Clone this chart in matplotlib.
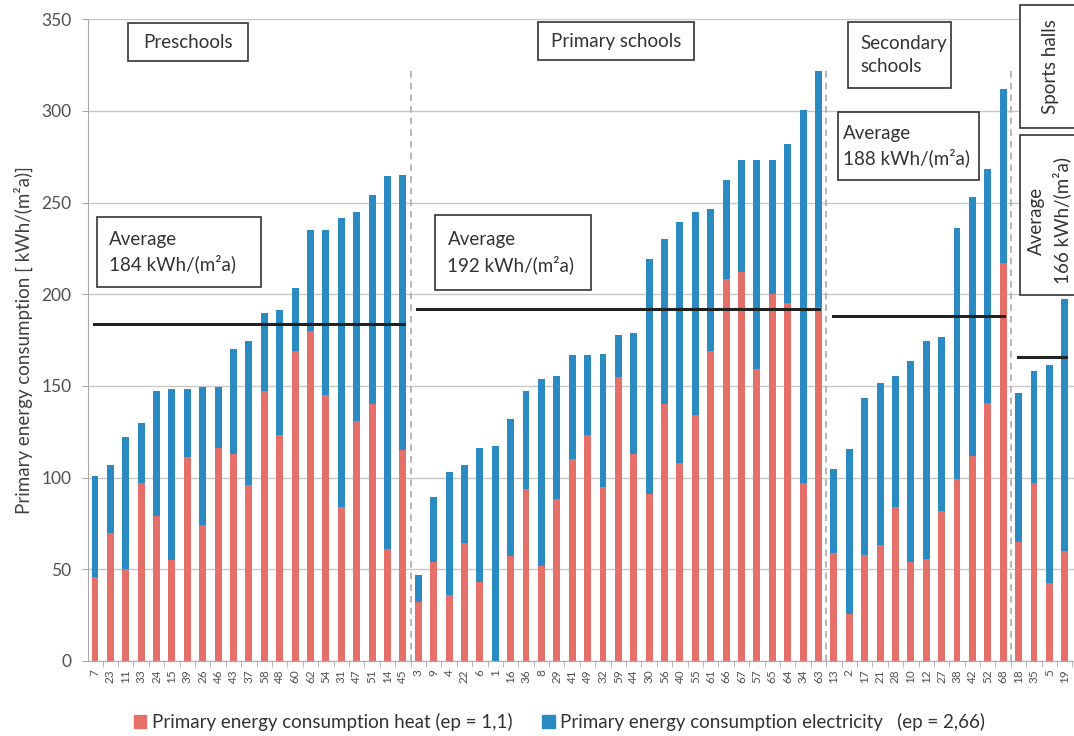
import matplotlib.pyplot as plt
from matplotlib.patches import Patch, Rectangle

plt.rcParams['font.family'] = ['Lato', 'DejaVu Sans']

# building ids per group (x tick labels)
preschools = ['7', '23', '11', '33', '24', '15', '39', '26', '46', '43', '37',
              '58', '48', '60', '62', '54', '31', '47', '51', '14', '45']
primary = ['3', '9', '4', '22', '6', '1', '16', '36', '8', '29', '41', '49', '32',
           '59', '44', '30', '56', '40', '55', '61', '66', '67', '57', '65', '64',
           '34', '63']
secondary = ['13', '2', '17', '21', '28', '10', '12', '27', '38', '42', '52', '68']
sports = ['18', '35', '5', '19']

# total primary energy (bar top) and heat part (red) per building
total_pre = [101, 107, 122, 129.5, 147, 148.5, 148.5, 149.5, 149.5, 170, 174.5,
             189.5, 191.5, 203.5, 235, 235, 241.5, 245, 254, 264.5, 265]
heat_pre = [46, 70, 50, 97, 79, 55, 111, 74, 116, 113, 96,
            147, 123, 169, 180, 145, 84, 131, 140, 61, 115]
total_pri = [47, 89.5, 103, 107, 116, 117, 132, 147, 154, 155.5, 167, 167, 167.5,
             177.5, 179, 219, 230, 239.5, 245, 246.5, 262.5, 273, 273, 273, 282,
             300.5, 321.5]
heat_pri = [32, 54, 36, 64.5, 43, 0, 57, 94, 52, 88.5, 110, 123, 95,
            155, 113, 91, 140, 108, 134, 169, 208.5, 212, 159, 200, 195,
            97, 193]
total_sec = [104.5, 115.5, 143.5, 151.5, 155.5, 163.5, 174.5, 176.5, 236, 253,
             268.5, 312]
heat_sec = [59, 25.5, 58, 63, 84, 54, 55.5, 82, 99, 111.5, 140.5, 217]
total_spo = [146, 158, 161.5, 197.5]
heat_spo = [65, 97, 42.5, 60]

averages = [184, 192, 188, 166]

labels = preschools + primary + secondary + sports
total = total_pre + total_pri + total_sec + total_spo
heat = heat_pre + heat_pri + heat_sec + heat_spo
elec = [t - h for t, h in zip(total, heat)]

red = '#E5706A'
blue = '#2A8BC3'
txt = '#333333'

fig = plt.figure(figsize=(10.74, 7.36), dpi=100)
ax = fig.add_axes([0.082, 0.102, 0.918, 0.872])

x = list(range(len(labels)))
ax.bar(x, heat, width=0.45, color=red, zorder=2)
ax.bar(x, elec, bottom=heat, width=0.45, color=blue, zorder=2)

ax.set_ylim(0, 350)
ax.set_xlim(-0.45, 63.6)
ax.set_yticks(range(0, 351, 50))
ax.grid(axis='y', color='#c8c8c8', linewidth=1, zorder=0)
ax.set_axisbelow(True)
ax.set_xticks(x)
ax.set_xticklabels(labels, rotation=90, fontsize=8.5, color='#505050')
ax.tick_params(axis='x', length=0, pad=6)
ax.tick_params(axis='y', length=4, colors='#505050', labelsize=12.5,
               color='#aaaaaa', pad=8)
ax.set_xticks([i + 0.5 for i in x], minor=True)
ax.tick_params(axis='x', which='minor', length=4, color='#aaaaaa')
for s in ['top', 'right']:
    ax.spines[s].set_visible(False)
for s in ['left', 'bottom']:
    ax.spines[s].set_color('#aaaaaa')
ax.set_ylabel('Primary energy consumption [ kWh/(m²a)]', fontsize=13.5,
              color='#404040', labelpad=6)

# group separators and average lines
n1 = len(preschools)
n2 = n1 + len(primary)
n3 = n2 + len(secondary)
n4 = n3 + len(sports)
for b in [n1 - 0.5, n2 - 0.5, n3 - 0.5]:
    ax.plot([b, b], [0, 324], color='#aaaaaa', linestyle=(0, (4, 3)),
            linewidth=1.2, zorder=3)
spans = [(0, n1 - 1), (n1, n2 - 1), (n2, n3 - 1), (n3, n4 - 1)]
for (a, b), avg in zip(spans, averages):
    ax.plot([a - 0.05, b + 0.05], [avg, avg], color='#222222', linewidth=2.2,
            zorder=4)


def box(x0, x1, y0, y1):
    ax.add_patch(Rectangle((x0, y0), x1 - x0, y1 - y0, facecolor='white',
                           edgecolor='#333333', linewidth=1.2, zorder=5,
                           clip_on=False))


# group name boxes
box(2.15, 9.95, 327.2, 347.9)
ax.text(6.05, 337.5, 'Preschools', fontsize=13.5, ha='center', va='center',
        color=txt, zorder=6)
box(28.8, 38.9, 327.7, 348.4)
ax.text(33.85, 338, 'Primary schools', fontsize=13.5, ha='center', va='center',
        color=txt, zorder=6)
box(48.9, 55.6, 312.4, 348.4)
ax.text(49.7, 330.5, 'Secondary\nschools', fontsize=13.5, ha='left',
        va='center', color=txt, zorder=6, linespacing=1.45)
box(60.1, 64.2, 290.6, 357.7)
ax.text(62.05, 324, 'Sports halls', fontsize=13.5, ha='center', va='center',
        rotation=90, color=txt, zorder=6, clip_on=False)

# average boxes
box(0.13, 10.8, 203.9, 242.1)
ax.text(0.9, 223, 'Average\n184 kWh/(m²a)', fontsize=13.5, ha='left',
        va='center', color=txt, zorder=6, linespacing=1.45)
box(22.1, 32.2, 202.3, 243.2)
ax.text(22.9, 222.7, 'Average\n192 kWh/(m²a)', fontsize=13.5, ha='left',
        va='center', color=txt, zorder=6, linespacing=1.45)
box(48.3, 57.4, 262.3, 299.3)
ax.text(48.6, 280.8, 'Average\n188 kWh/(m²a)', fontsize=13.5, ha='left',
        va='center', color=txt, zorder=6, linespacing=1.45)
box(60.1, 64.2, 199.6, 286.8)
ax.text(62.0, 240, 'Average\n166 kWh/(m²a)', fontsize=13.5, ha='center',
        va='center', rotation=90, multialignment='center', color=txt,
        zorder=6, linespacing=1.45, clip_on=False)

handles = [Patch(color=red, label='Primary energy consumption heat (ep = 1,1)'),
           Patch(color=blue, label='Primary energy consumption electricity   (ep = 2,66)')]
fig.legend(handles=handles, loc='center left',
           bbox_to_anchor=(134 / 1074, 1 - 722 / 736), ncol=2, frameon=False,
           fontsize=13.5, handlelength=0.65, handleheight=0.65,
           handletextpad=0.3, columnspacing=1.6, borderpad=0, borderaxespad=0,
           labelcolor=txt)

fig.savefig('out.png', dpi=100)
